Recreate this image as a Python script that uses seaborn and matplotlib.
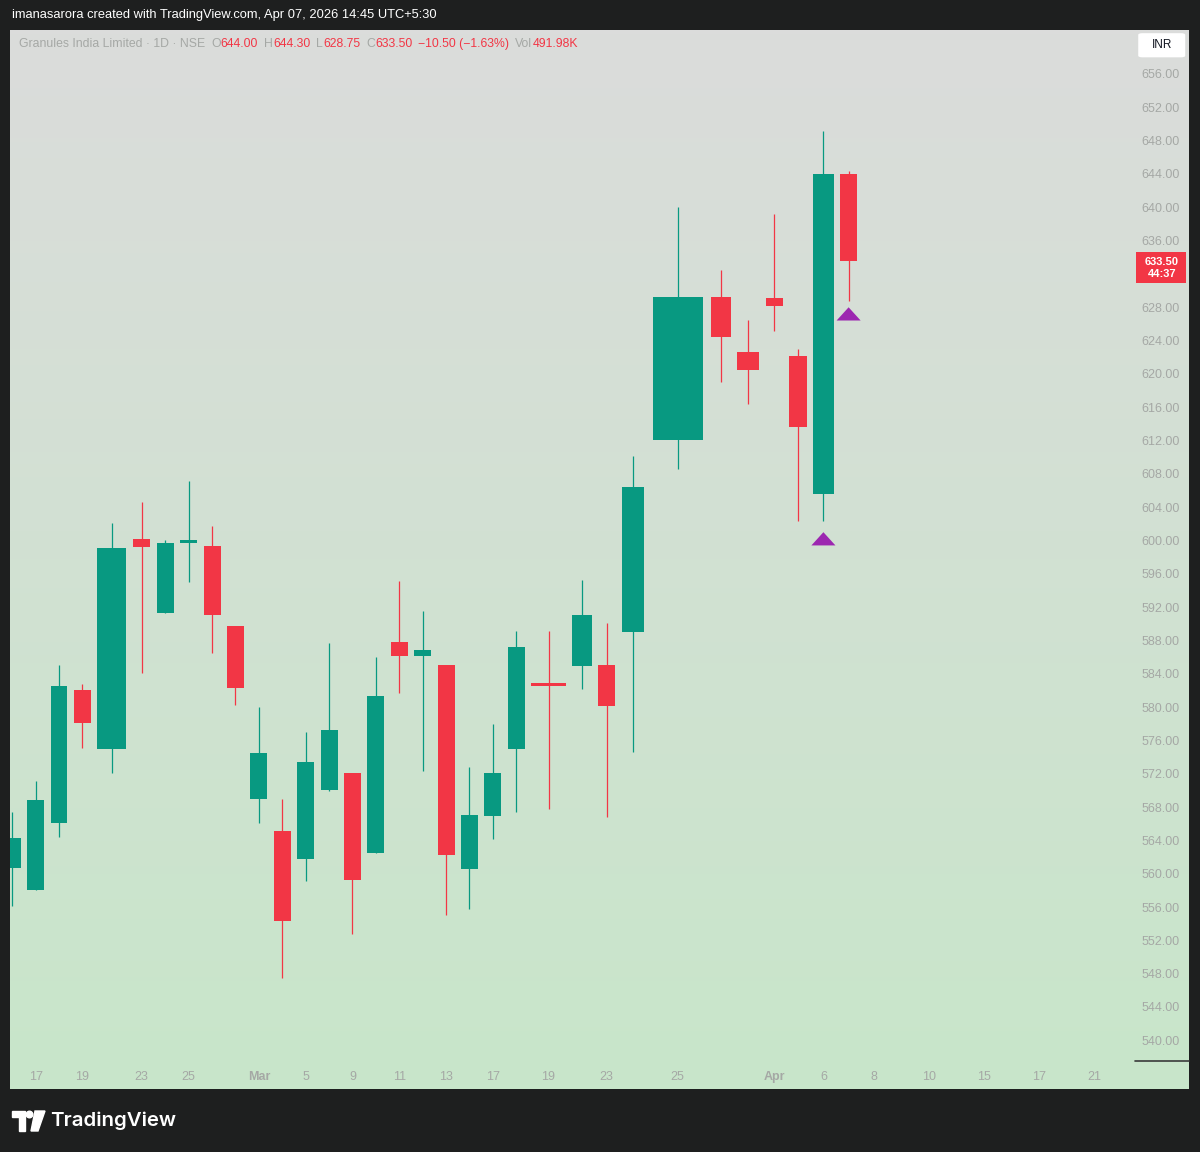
import numpy as np
import pandas as pd
import matplotlib.pyplot as plt
import seaborn as sns
from matplotlib.patches import Rectangle, Circle, Polygon, FancyBboxPatch
from matplotlib.transforms import Affine2D

# Granules India, daily, volume candles (width ~ volume)
dates = ["2026-02-16", "2026-02-17", "2026-02-18", "2026-02-19", "2026-02-20",
         "2026-02-23", "2026-02-24", "2026-02-25", "2026-02-26", "2026-02-27",
         "2026-03-02", "2026-03-04", "2026-03-05", "2026-03-06", "2026-03-09",
         "2026-03-10", "2026-03-11", "2026-03-12", "2026-03-13", "2026-03-16",
         "2026-03-17", "2026-03-18", "2026-03-19", "2026-03-20", "2026-03-23",
         "2026-03-24", "2026-03-25", "2026-03-27", "2026-03-30", "2026-04-01",
         "2026-04-02", "2026-04-06", "2026-04-07"]
opens = [560.7, 558.0, 566.1, 582.0, 575.0, 600.2, 591.3, 599.7, 599.3, 589.7,
         569.0, 565.1, 561.8, 570.0, 572.1, 562.5, 587.8, 586.1, 585.1, 560.6,
         566.9, 575.0, 582.9, 584.9, 585.1, 589.0, 612.1, 629.2, 622.6, 629.1,
         622.1, 605.6, 644.0]
highs = [567.4, 571.1, 585.1, 582.8, 602.1, 604.6, 600.1, 607.1, 601.7, 589.7,
         580.0, 569.0, 577.0, 587.7, 572.1, 586.0, 595.1, 591.5, 585.1, 572.8,
         578.0, 589.1, 589.1, 595.3, 590.1, 610.1, 640.0, 632.5, 626.5, 639.2,
         623.0, 649.2, 644.3]
lows = [556.1, 558.0, 564.4, 575.1, 572.1, 584.1, 591.3, 595.0, 586.5, 580.3,
        566.1, 547.5, 559.1, 569.9, 552.8, 562.5, 581.7, 572.3, 555.0, 555.8,
        564.2, 567.4, 567.8, 582.2, 566.8, 574.6, 608.6, 619.0, 616.4, 625.1,
        602.3, 602.3, 628.75]
closes = [564.3, 568.8, 582.5, 578.1, 599.1, 599.2, 599.7, 600.1, 591.1, 582.3,
          574.5, 554.3, 573.4, 577.2, 559.2, 581.3, 586.1, 586.9, 562.2, 567.0,
          572.1, 587.2, 582.5, 591.1, 580.1, 606.4, 629.2, 624.4, 620.5, 628.1,
          613.6, 644.0, 633.5]
vol_k = [520, 540, 560, 430, 880, 595, 470, 410, 480, 500,
         450, 530, 490, 460, 510, 540, 400, 380, 570, 440,
         420, 550, 1017, 645, 560, 720, 1500, 645, 707, 480,
         595, 670, 491.98]

future_dates = ["2026-04-08", "2026-04-09", "2026-04-10", "2026-04-13", "2026-04-15",
                "2026-04-16", "2026-04-17", "2026-04-20", "2026-04-21"]
future_vol_k = 682

signal_dates = ["2026-04-06", "2026-04-07"]
signal_levels = [600.2, 627.2]

tick_dates = ["2026-02-17", "2026-02-19", "2026-02-23", "2026-02-25", "2026-03-02",
              "2026-03-05", "2026-03-09", "2026-03-11", "2026-03-13", "2026-03-17",
              "2026-03-19", "2026-03-23", "2026-03-25", "2026-04-01", "2026-04-06",
              "2026-04-08", "2026-04-10", "2026-04-15", "2026-04-17", "2026-04-21"]
tick_labels = ["17", "19", "23", "25", "Mar", "5", "9", "11", "13", "17",
               "19", "23", "25", "Apr", "6", "8", "10", "15", "17", "21"]

price_ticks = np.arange(540, 657, 4)

GREEN = "#089981"
RED = "#f23645"
PURPLE = "#9c27b0"
DARK = "#1e1f1f"
LABEL = "#a5a8a5"

W, H = 1200, 1152
sns.set_theme(style="white")
plt.rcParams["font.family"] = ["Liberation Sans", "DejaVu Sans"]

df = pd.DataFrame({"date": pd.to_datetime(dates), "open": opens, "high": highs,
                   "low": lows, "close": closes, "vol": vol_k})

# slot width follows volume, with a minimum slot
px_per_k = 60.5 / 1500
min_k = 23.4 / px_per_k
slots = np.maximum(df["vol"].to_numpy(), min_k)
edges = np.concatenate([[0], np.cumsum(slots)])
df["x"] = (edges[:-1] + edges[1:]) / 2
df["w"] = slots - np.maximum(6.5 / px_per_k, 0.17 * slots)

fut = pd.to_datetime(future_dates)
fut_x = edges[-1] + future_vol_k * (np.arange(len(fut)) + 0.5)
pos = dict(zip(df["date"], df["x"]))
pos.update(dict(zip(fut, fut_x)))

fig = plt.figure(figsize=(W / 100, H / 100), dpi=100, facecolor=DARK)


def px_axes(x0, y0, x1, y1):
    return fig.add_axes([x0 / W, 1 - y1 / H, (x1 - x0) / W, (y1 - y0) / H])


# gradient background of the chart panel
bg = px_axes(10, 30, 1189, 1089)
top = np.array([219, 220, 219]) / 255
bot = np.array([200, 230, 202]) / 255
grad = np.linspace(0, 1, 256)[:, None, None] * (bot - top) + top
bg.imshow(np.repeat(grad, 2, axis=1), aspect="auto", extent=(0, 1, 0, 1))
bg.set_axis_off()

ax = px_axes(10, 30, 1135, 1061)
ax.set_facecolor("none")
ppu = 8.33  # pixels per rupee
ylo = 656 - (1061 - 74) / ppu
yhi = 656 + (74 - 30) / ppu
ax.set_ylim(ylo, yhi)
xl = 9.5 / px_per_k
ax.set_xlim(xl, xl + 1125 / px_per_k)

up = df["close"] >= df["open"]
cols = np.where(up, GREEN, RED)
ax.vlines(df["x"], df["low"], df["high"], colors=cols, lw=0.9, zorder=2)
body_lo = np.minimum(df["open"], df["close"])
body_h = np.maximum(np.abs(df["close"] - df["open"]), 1.2 / ppu)
ax.bar(df["x"], body_h, width=df["w"], bottom=body_lo, color=cols, lw=0, zorder=3)

sig = pd.DataFrame({"x": [pos[pd.Timestamp(d)] for d in signal_dates], "y": signal_levels})
tri = [(-1, -0.55), (1, -0.55), (0, 0.55), (-1, -0.55)]
sns.scatterplot(data=sig, x="x", y="y", marker=tri, s=300, color=PURPLE,
                edgecolor="none", ax=ax, legend=False, zorder=4)

ax.set_xticks([pos[pd.Timestamp(d)] for d in tick_dates], tick_labels)
ax.tick_params(axis="x", length=0, pad=7.5, labelsize=9, labelcolor=LABEL)
for lab in ax.get_xticklabels():
    if lab.get_text() in ("Mar", "Apr"):
        lab.set_fontweight("bold")
ax.set_yticks([])
ax.set_xlabel("")
ax.set_ylabel("")
for s in ax.spines.values():
    s.set_visible(False)

# price scale on the right; labels under the last-price tag are hidden
last = closes[-1]
tag_lo, tag_hi = last - 2.65, last + 1.1
axp = px_axes(1135, 30, 1189, 1061)
axp.set_facecolor("none")
axp.set_ylim(ylo, yhi)
axp.set_xlim(0, 1)
axp.set_xticks([])
axp.yaxis.tick_right()
axp.set_yticks(price_ticks, ["" if tag_lo - 1 < p < tag_hi + 1 else f"{p:.2f}"
                             for p in price_ticks])
axp.tick_params(axis="y", length=0, pad=-6.5, labelsize=9, labelcolor=LABEL)
for lab in axp.get_yticklabels():
    lab.set_horizontalalignment("right")
for s in axp.spines.values():
    s.set_visible(False)
axp.axhline(ylo, color="#3a3a3a", lw=1.2, clip_on=False)

axp.add_patch(Rectangle((0.02, tag_lo), 0.93, tag_hi - tag_lo, color=RED, lw=0, zorder=5))
axp.text(0.5, last - 0.8, f"{last:.2f}\n44:37", color="white", ha="center", va="center",
         fontsize=8, fontweight="bold", linespacing=1.15, zorder=6)
axp.add_patch(FancyBboxPatch((0.06, 658.0), 0.87, 2.9,
                             boxstyle="round,pad=0,rounding_size=0.08",
                             mutation_aspect=2.5, color="white", lw=0, clip_on=False))
axp.text(0.5, 659.45, "INR", color="#131722", ha="center", va="center",
         fontsize=8.5, clip_on=False)

# header and legend line
fig.text(12 / W, 1 - 15 / H, "imanasarora created with TradingView.com, Apr 07, 2026 14:45 UTC+5:30",
         color="white", fontsize=9.3, va="center")

chg = closes[-1] - closes[-2]
pct = chg / closes[-2] * 100
pieces = [("Granules India Limited · 1D · NSE", LABEL, 6),
          ("O", LABEL, 0), (f"{opens[-1]:.2f}", RED, 6),
          ("H", LABEL, 0), (f"{highs[-1]:.2f}", RED, 6),
          ("L", LABEL, 0), (f"{lows[-1]:.2f}", RED, 6),
          ("C", LABEL, 0), (f"{closes[-1]:.2f}", RED, 6),
          (f"{chg:+.2f} ({pct:+.2f}%)".replace("-", "\u2212"), RED, 6),
          ("Vol", LABEL, 0), (f"{vol_k[-1]:.2f}K", RED, 0)]
fig.canvas.draw()
rend = fig.canvas.get_renderer()
xpos = 19
for txt, c, gap in pieces:
    t = fig.text(xpos / W, 1 - 44 / H, txt, color=c, fontsize=8.8, va="center")
    xpos += t.get_window_extent(rend).width + gap

# TradingView logo
tr = Affine2D().scale(1, -1).translate(0, H)
fig.add_artist(Polygon([(12, 1111), (25, 1111), (25, 1131), (19, 1131), (19, 1117), (12, 1117)],
                       closed=True, color="white", transform=tr))
fig.add_artist(Circle((29.5, 1114.5), 3.3, color="white", transform=tr))
fig.add_artist(Polygon([(35, 1111), (45, 1111), (38, 1131), (31, 1131)],
                       closed=True, color="white", transform=tr))
fig.text(50 / W, 1 - 1121 / H, "TradingView", color="white", fontsize=14.7,
         fontweight="semibold", family=["Inter", "DejaVu Sans"], va="center")

fig.savefig("out.png", dpi=100, facecolor=DARK)
